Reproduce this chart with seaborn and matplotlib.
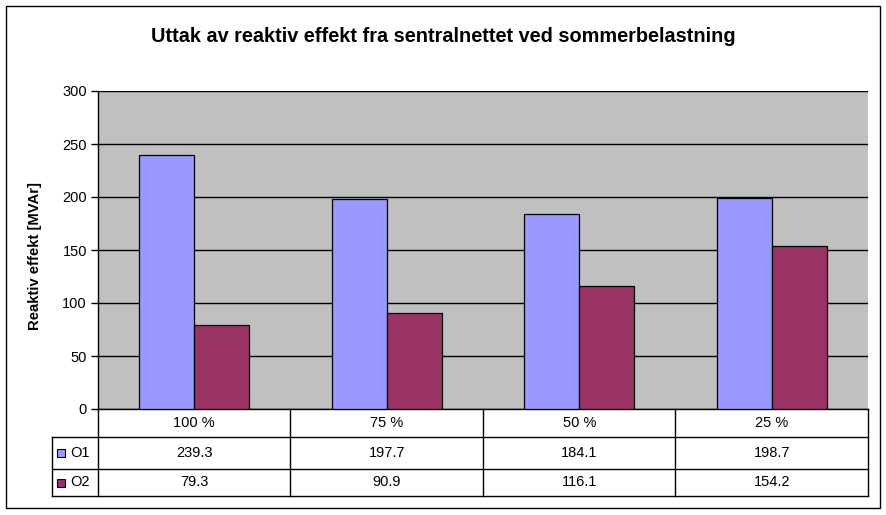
import pandas as pd
import matplotlib.pyplot as plt
import seaborn as sns

# Data
categories = ['100 %', '75 %', '50 %', '25 %']
series = ['O1', 'O2']
o1_values = [239.3, 197.7, 184.1, 198.7]
o2_values = [79.3, 90.9, 116.1, 154.2]
colors = ['#9999FF', '#993366']

df = pd.DataFrame({
    'kategori': categories * 2,
    'serie': ['O1'] * 4 + ['O2'] * 4,
    'verdi': o1_values + o2_values,
})

plt.rcParams['font.family'] = ['Liberation Sans', 'DejaVu Sans']
FS = 10.5

W, H = 887, 515
fig = plt.figure(figsize=(W / 100, H / 100), dpi=100)
fig.patch.set_facecolor('white')

# plot area in pixels
x0, x1, y0, y1 = 98, 868, 91, 409
ax = fig.add_axes([x0 / W, 1 - y1 / H, (x1 - x0) / W, (y1 - y0) / H])
ax.set_facecolor('#C0C0C0')

sns.barplot(data=df, x='kategori', y='verdi', hue='serie', palette=colors,
            width=0.571, edgecolor='black', linewidth=0.9, saturation=1,
            legend=False, ax=ax, zorder=3)

ax.set_ylim(0, 300)
ax.set_xlim(-0.5, 3.5)
ax.set_yticks(range(0, 301, 50))
ax.yaxis.grid(True, color='black', linewidth=1)
ax.set_axisbelow(True)
ax.tick_params(axis='y', labelsize=FS, length=5, width=1, color='black', pad=3)
ax.set_xticks([])
ax.set_xlabel('')
ax.set_ylabel('')
for side in ['top', 'right']:
    ax.spines[side].set_visible(False)
ax.spines['left'].set_linewidth(1)
ax.spines['bottom'].set_linewidth(1)


def fx(px):
    return px / W


def fy(py):
    return 1 - py / H


fig.text(fx(443), fy(36), 'Uttak av reaktiv effekt fra sentralnettet ved sommerbelastning',
         ha='center', va='center', fontsize=14.3, fontweight='bold')
fig.text(fx(35), fy(256), 'Reaktiv effekt [MVAr]', ha='center', va='center',
         rotation=90, fontsize=10.7, fontweight='bold')

# outer border
fig.add_artist(plt.Rectangle((fx(6), fy(508)), (880 - 6) / W, (508 - 6) / H,
                             transform=fig.transFigure, fill=False,
                             edgecolor='black', linewidth=1))

# data table below the axes
row_y = [409, 437, 469, 496]
col_x = [x0 + i * (x1 - x0) / 4 for i in range(5)]
lw = 1
for yy in [437, 469, 496]:
    fig.add_artist(plt.Line2D([fx(52), fx(x1)], [fy(yy), fy(yy)], color='black', lw=lw))
for xx in col_x:
    fig.add_artist(plt.Line2D([fx(xx), fx(xx)], [fy(409), fy(496)], color='black', lw=lw))
fig.add_artist(plt.Line2D([fx(52), fx(52)], [fy(437), fy(496)], color='black', lw=lw))

for i, cat in enumerate(categories):
    cx = (col_x[i] + col_x[i + 1]) / 2
    fig.text(fx(cx), fy((409 + 437) / 2), cat, ha='center', va='center', fontsize=FS)
    fig.text(fx(cx), fy((437 + 469) / 2), f'{o1_values[i]:.1f}', ha='center', va='center', fontsize=FS)
    fig.text(fx(cx), fy((469 + 496) / 2), f'{o2_values[i]:.1f}', ha='center', va='center', fontsize=FS)

for j, (name, col) in enumerate(zip(series, colors)):
    cy = (row_y[j + 1] + row_y[j + 2]) / 2
    fig.add_artist(plt.Rectangle((fx(57), fy(cy + 4)), 8 / W, 8 / H,
                                 transform=fig.transFigure, facecolor=col,
                                 edgecolor='black', linewidth=0.8))
    fig.text(fx(70), fy(cy), name, ha='left', va='center', fontsize=FS)

plt.savefig('out.png', dpi=100)
plt.close()
